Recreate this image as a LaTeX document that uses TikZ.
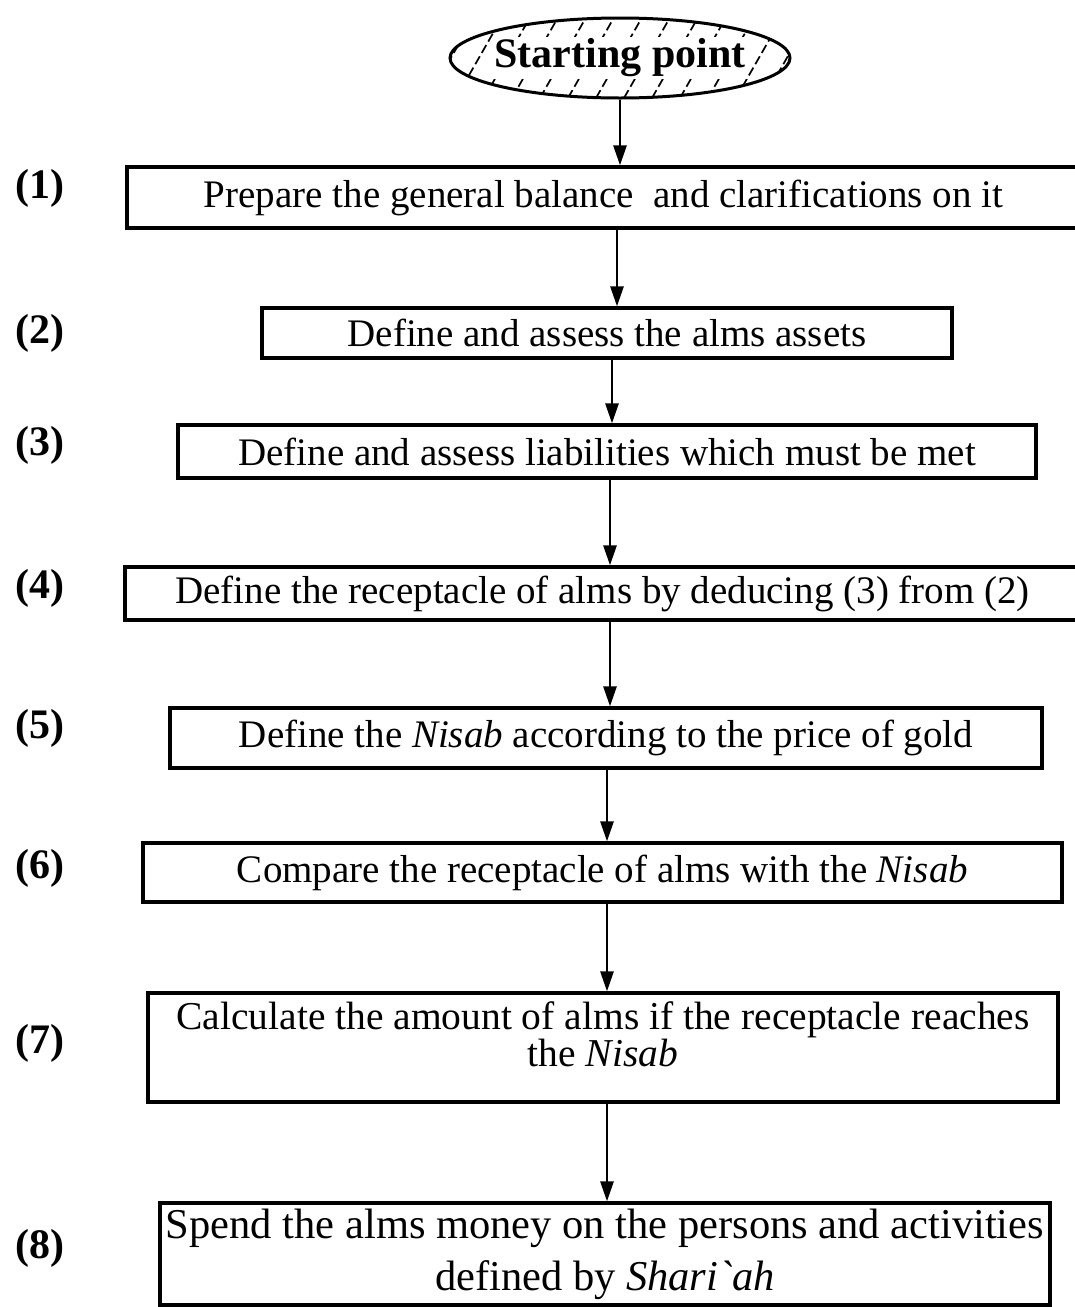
\documentclass[tikz,border=0pt]{standalone}
\usepackage{fontspec}
\setmainfont{Liberation Serif}
\usetikzlibrary{arrows.meta, shapes.geometric, positioning}

\begin{document}
\begin{tikzpicture}[x=1pt, y=-1pt,
        box/.style={draw, line width=3.2pt, inner sep=0pt, font=\fontsize{39}{40}\selectfont},
        num/.style={font=\bfseries\fontsize{42}{44}\selectfont},
        flow/.style={-{Triangle[length=20pt, width=13pt]}, line width=2.6pt},
        hatch/.style={line width=1.7pt, dash pattern=on 9pt off 4pt}]
                            \useasboundingbox (0,0) rectangle (1075,1307);

                            \node[ellipse, draw, line width=3pt, minimum width=340pt, minimum height=80pt,
                                inner xsep=-6pt, inner ysep=0pt,
                                font=\bfseries\fontsize{42}{44}\selectfont,
                                path picture={
                                    \foreach \i in {0,...,15}
                                        \draw[hatch] ([xshift={\i*28pt-50pt}]path picture bounding box.south west) -- ++(48,-84);
                                    \fill[white] ([xshift=-128pt, yshift=-21pt]path picture bounding box.center)
                                        rectangle ([xshift=128pt, yshift=21pt]path picture bounding box.center);
                                }] (s) at (620,58) {Starting point};

                            \node[box, minimum width=953pt, minimum height=61pt] (b1) at (603.5,197.5) {Prepare the general balance\ \ and clarifications on it};
                            \node[box, minimum width=690pt, minimum height=50pt] (b2) at (607,333) {Define and assess the alms assets};
                            \node[box, minimum width=858pt, minimum height=53pt] (b3) at (607,451.5) {Define and assess liabilities which must be met};
                            \node[box, minimum width=955pt, minimum height=53pt] (b4) at (602.5,593.5) {Define the receptacle of alms by deducing (3) from (2)};
                            \node[box, minimum width=872pt, minimum height=60pt] (b5) at (606,738) {Define the \textit{Nisab} according to the price of gold};
                            \node[box, minimum width=919pt, minimum height=59pt] (b6) at (602.5,872.5) {Compare the receptacle of alms with the \textit{Nisab}};
                            \node[box, minimum width=910pt, minimum height=109pt] (b7) at (603,1047.5) {};
                            \node[align=center, inner sep=0pt, font=\fontsize{39.5}{34}\selectfont, below=10pt of b7.north] (t7)
                                {Calculate the amount of alms if the receptacle reaches\\the \textit{Nisab}};
                            \node[box, minimum width=890pt, minimum height=102pt, align=center, font=\fontsize{42.5}{52}\selectfont] (b8) at (605,1254)
                                {Spend the alms money on the persons and activities\\defined by \textit{Shari\textasciigrave ah}};

                            \foreach \i/\y in {1/188, 2/333, 3/445, 4/588, 5/728, 6/868, 7/1043, 8/1248}
                                \node[num] (n\i) at (40,\y) {(\i)};

                            \draw[flow] (s.south) -- (s.south |- b1.north);
                            \foreach \a/\b/\x in {b1/b2/617, b2/b3/612, b3/b4/610, b4/b5/610, b5/b6/607, b6/b7/607, b7/b8/607}
                                \draw[flow] (\a.south -| \x,0) -- (\b.north -| \x,0);
                        \end{tikzpicture}
\end{document}
